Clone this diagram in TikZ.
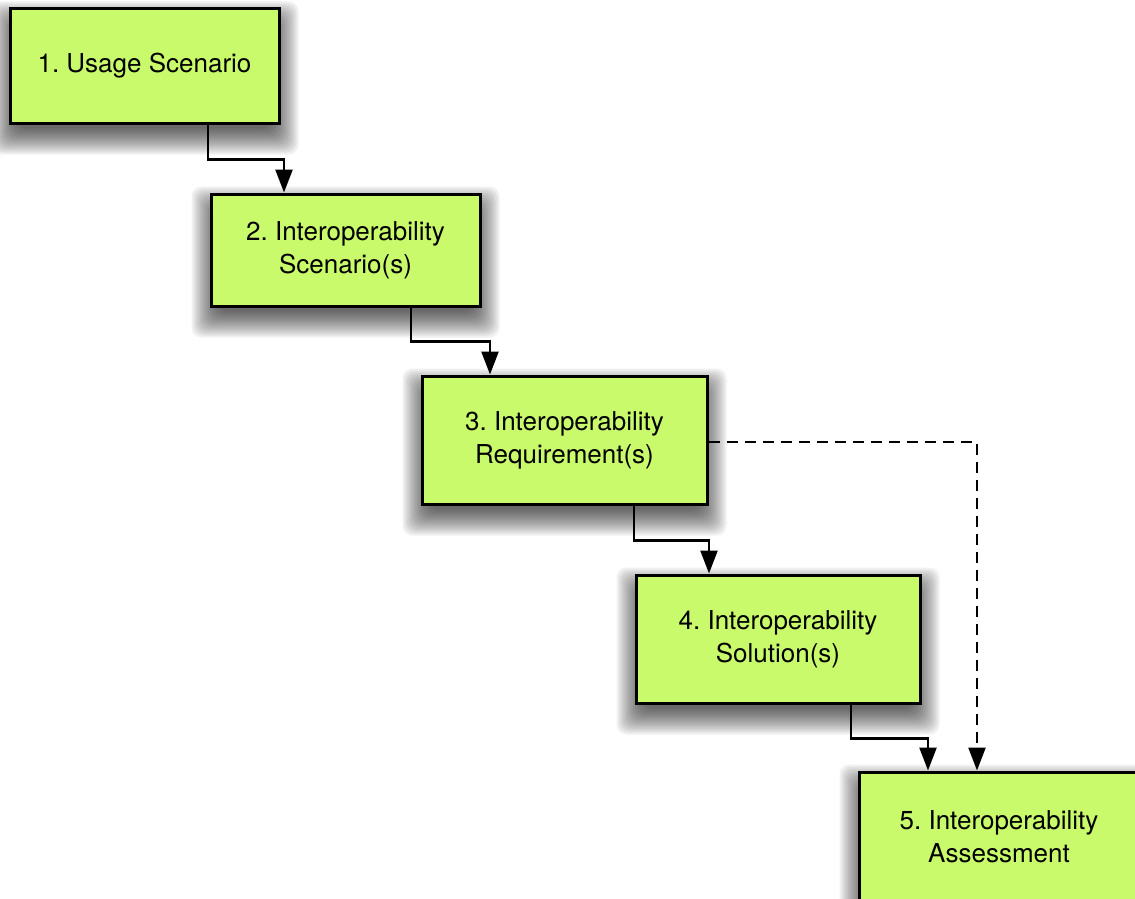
\documentclass[tikz,border=0pt]{standalone}
\usepackage{fontspec}
\setmainfont{TeX Gyre Heros}
\usetikzlibrary{arrows.meta,backgrounds}
\definecolor{boxfill}{RGB}{201,250,108}
\tikzset{
  stage/.style={draw=black, line width=3pt, fill=boxfill, align=center,
    inner sep=0pt, font=\fontsize{26}{33}\selectfont\frenchspacing},
  flow/.style={draw=black, line width=2.5pt,
    -{Triangle[width=17pt,length=23pt]}},
  feedback/.style={flow, dash pattern=on 11pt off 7pt},
  shadowlayer/.style={fill=black, fill opacity=0.06, rounded corners=10pt}
}
% soft drop shadow built from stacked translucent rectangles
\newcommand\softshadow[1]{%
  \foreach \d in {-8,-6,...,18}{
    \path[shadowlayer] ([shift={(-\d,12-\d)}]#1.north west)
      rectangle ([shift={(\d,12+\d)}]#1.south east);
  }}
\begin{document}
\begin{tikzpicture}[x=1pt,y=-1pt]
  \clip (0,0) rectangle (1135,899);

  \node[stage, minimum width=269pt, minimum height=114pt] (b1) at (144.5,66)
    {1. Usage Scenario};
  \node[stage, minimum width=269pt, minimum height=112pt] (b2) at (345.5,250)
    {2. Interoperability\\Scenario(s)};
  \node[stage, minimum width=285pt, minimum height=128pt] (b3) at (564.5,440)
    {3. Interoperability\\Requirement(s)};
  \node[stage, minimum width=284pt, minimum height=128pt] (b4) at (778,639)
    {4. Interoperability\\Solution(s)};
  \node[stage, minimum width=280pt, minimum height=130pt] (b5) at (999,837)
    {5. Interoperability\\Assessment};

  \begin{scope}[on background layer]
    \fill[white] (0,0) rectangle (1135,899);
    \softshadow{b1}
    \softshadow{b2}
    \softshadow{b3}
    \softshadow{b4}
    \softshadow{b5}
  \end{scope}

  % stage-to-stage elbow connectors
  \draw[flow] ([xshift=63.5pt]b1.south) -- ++(0,35) -| ([xshift=-61.5pt]b2.north);
  \draw[flow] ([xshift=65.5pt]b2.south) -- ++(0,34) -| ([xshift=-74.5pt]b3.north);
  \draw[flow] ([xshift=69.5pt]b3.south) -- ++(0,35) -| ([xshift=-69pt]b4.north);
  \draw[flow] ([xshift=73pt]b4.south) -- ++(0,34) -| ([xshift=-71pt]b5.north);

  % requirements feed the assessment directly
  \draw[feedback] ([yshift=-2pt]b3.east) -| ([xshift=-22pt]b5.north);
\end{tikzpicture}
\end{document}
